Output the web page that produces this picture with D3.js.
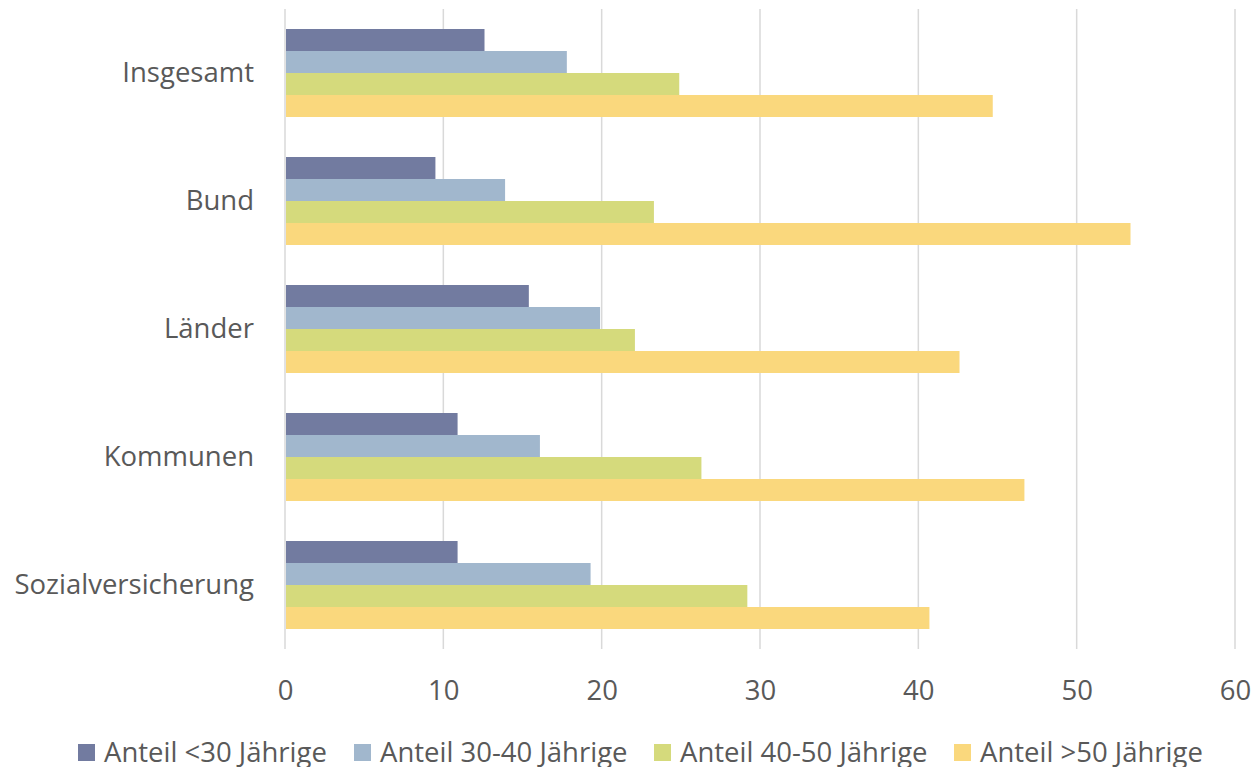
<!DOCTYPE html>
<html>
<head>
<meta charset="utf-8">
<script src="https://cdn.jsdelivr.net/npm/d3@7"></script>
<style>
  html, body { margin: 0; padding: 0; background: #ffffff; }
  svg { display: block; font-family: "Open Sans", sans-serif; }
</style>
</head>
<body>
<svg id="chart" width="1254" height="767"></svg>
<script>
// Altersstruktur des Personals im öffentlichen Dienst (Anteile in %)
const categories = ["Insgesamt", "Bund", "Länder", "Kommunen", "Sozialversicherung"];
const seriesNames = ["Anteil <30 Jährige", "Anteil 30-40 Jährige", "Anteil 40-50 Jährige", "Anteil >50 Jährige"];
const under30 = [12.6, 9.5, 15.4, 10.9, 10.9];
const age30to40 = [17.8, 13.9, 19.9, 16.1, 19.3];
const age40to50 = [24.9, 23.3, 22.1, 26.3, 29.2];
const over50 = [44.7, 53.4, 42.6, 46.7, 40.7];
const xTicks = [0, 10, 20, 30, 40, 50, 60];
const colors = ["#727BA0", "#A1B7CD", "#D5DA7C", "#FAD87D"];

const seriesValues = [under30, age30to40, age40to50, over50];

const svg = d3.select("#chart");
const margin = { left: 285, right: 19, top: 9, bottom: 118 };
const width = 1254, height = 767;
const textColor = "#595959";
const fontSize = "27.5px";

const x = d3.scaleLinear()
  .domain([0, 60])
  .range([margin.left, width - margin.right]);

const y = d3.scaleBand()
  .domain(categories)
  .range([margin.top, height - margin.bottom])
  .paddingInner(40 / 128)
  .paddingOuter(20 / 128);

const ySub = d3.scaleBand()
  .domain(seriesNames)
  .range([0, y.bandwidth()]);

// vertical gridlines
svg.append("g")
  .selectAll("line")
  .data(xTicks)
  .join("line")
  .attr("x1", d => x(d)).attr("x2", d => x(d))
  .attr("y1", margin.top).attr("y2", height - margin.bottom)
  .attr("stroke", "#D9D9D9")
  .attr("stroke-width", 1.5);

// bars
const groups = svg.append("g")
  .selectAll("g")
  .data(categories)
  .join("g")
  .attr("transform", d => `translate(0,${y(d)})`);

groups.selectAll("rect")
  .data((d, i) => seriesNames.map((s, j) => ({ series: s, value: seriesValues[j][i], color: colors[j] })))
  .join("rect")
  .attr("x", x(0) + 1)
  .attr("y", d => ySub(d.series))
  .attr("width", d => x(d.value) - x(0) - 1)
  .attr("height", ySub.bandwidth())
  .attr("fill", d => d.color);

// x axis labels
const xAxis = d3.axisBottom(x)
  .tickValues(xTicks)
  .tickSize(0)
  .tickPadding(0)
  .tickFormat(d3.format("d"));

const xg = svg.append("g")
  .attr("transform", `translate(0,${height - margin.bottom})`)
  .call(xAxis);
xg.select(".domain").remove();
xg.selectAll("text")
  .attr("y", 41)
  .attr("dy", "0.35em")
  .attr("fill", textColor)
  .style("font-size", fontSize)
  .style("font-family", "'Open Sans', sans-serif");

// y axis labels
const yAxis = d3.axisLeft(y).tickSize(0).tickPadding(31);
const yg = svg.append("g")
  .attr("transform", `translate(${margin.left},0)`)
  .call(yAxis);
yg.select(".domain").remove();
yg.selectAll("text")
  .attr("fill", textColor)
  .style("font-size", fontSize)
  .style("font-family", "'Open Sans', sans-serif");

// legend
const legendX = [78, 354, 654, 954];
const legend = svg.append("g")
  .selectAll("g")
  .data(seriesNames)
  .join("g")
  .attr("transform", (d, i) => `translate(${legendX[i]},744)`);

legend.append("rect")
  .attr("width", 17)
  .attr("height", 17)
  .attr("fill", (d, i) => colors[i]);

legend.append("text")
  .attr("x", 26)
  .attr("y", 8.5)
  .attr("dy", "0.35em")
  .attr("fill", textColor)
  .style("font-size", fontSize)
  .text(d => d);
</script>
</body>
</html>
